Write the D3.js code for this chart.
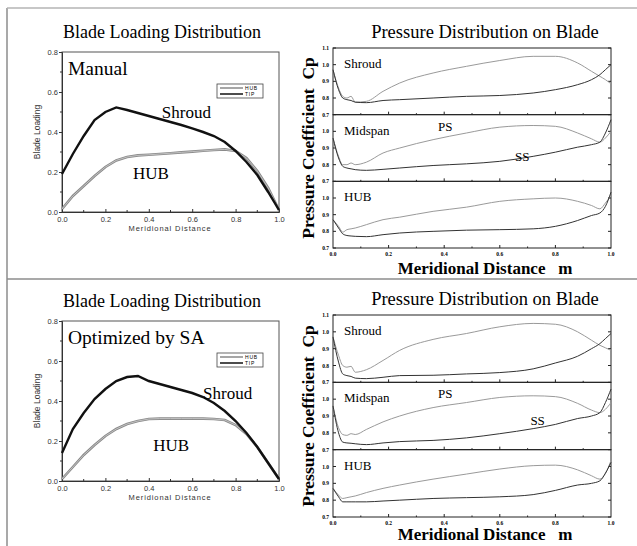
<!DOCTYPE html>
<html>
<head>
<meta charset="utf-8">
<script src="https://cdn.jsdelivr.net/npm/d3@7"></script>
<style>
  body { margin: 0; background: #fff; }
  text { font-family: "Liberation Serif", "Times New Roman", serif; }
</style>
</head>
<body>
<div id="fig"></div>
<script>
// ---- blade loading data ----
var blX = [0, 0.05, 0.1, 0.15, 0.2, 0.25, 0.3, 0.35, 0.4, 0.45, 0.5, 0.55, 0.6, 0.65, 0.7, 0.75, 0.8, 0.85, 0.9, 0.95, 1.0];
var manualTip = [0.19, 0.29, 0.38, 0.46, 0.50, 0.523, 0.51, 0.495, 0.48, 0.465, 0.45, 0.435, 0.418, 0.40, 0.38, 0.35, 0.305, 0.25, 0.185, 0.10, 0.01];
var manualHub = [0.015, 0.08, 0.13, 0.18, 0.225, 0.258, 0.275, 0.283, 0.286, 0.29, 0.294, 0.298, 0.302, 0.306, 0.31, 0.313, 0.305, 0.27, 0.205, 0.12, 0.01];
var optTip = [0.14, 0.26, 0.34, 0.41, 0.46, 0.50, 0.52, 0.525, 0.50, 0.485, 0.47, 0.455, 0.44, 0.42, 0.39, 0.35, 0.30, 0.24, 0.17, 0.09, 0.01];
var optHub = [0.01, 0.07, 0.13, 0.18, 0.225, 0.26, 0.285, 0.30, 0.31, 0.312, 0.312, 0.312, 0.312, 0.312, 0.31, 0.305, 0.28, 0.235, 0.17, 0.09, 0.01];
var blYTicks = [0, 0.2, 0.4, 0.6, 0.8];
var xTicks = [0, 0.2, 0.4, 0.6, 0.8, 1.0];

// ---- pressure coefficient data ----
var cpX = [0, 0.02, 0.035, 0.05, 0.065, 0.08, 0.12, 0.18, 0.24, 0.36, 0.48, 0.6, 0.72, 0.8, 0.88, 0.93, 0.96, 0.98, 1.0];
// manual
var manShroudPS = [0.97, 0.86, 0.81, 0.80, 0.81, 0.775, 0.78, 0.84, 0.89, 0.95, 0.99, 1.025, 1.05, 1.05, 1.01, 0.96, 0.93, 0.91, 0.885];
var manShroudSS = [0.97, 0.85, 0.80, 0.79, 0.785, 0.775, 0.772, 0.785, 0.79, 0.80, 0.81, 0.815, 0.83, 0.85, 0.88, 0.91, 0.94, 0.97, 1.0];
var manMidPS = [0.96, 0.85, 0.80, 0.80, 0.81, 0.80, 0.815, 0.87, 0.90, 0.95, 0.99, 1.025, 1.035, 1.03, 0.99, 0.955, 0.935, 0.96, 1.0];
var manMidSS = [0.96, 0.84, 0.79, 0.78, 0.775, 0.77, 0.766, 0.772, 0.78, 0.795, 0.805, 0.82, 0.85, 0.875, 0.905, 0.92, 0.935, 0.99, 1.07];
var manHubPS = [0.87, 0.83, 0.795, 0.81, 0.815, 0.82, 0.84, 0.87, 0.885, 0.92, 0.945, 0.98, 0.995, 1.0, 0.98, 0.955, 0.935, 0.97, 1.015];
var manHubSS = [0.87, 0.82, 0.785, 0.775, 0.772, 0.77, 0.768, 0.78, 0.79, 0.80, 0.807, 0.81, 0.815, 0.83, 0.865, 0.895, 0.91, 0.95, 1.035];
// optimized
var optShroudPS = [0.97, 0.86, 0.80, 0.79, 0.795, 0.76, 0.775, 0.83, 0.89, 0.955, 0.99, 1.03, 1.05, 1.045, 1.0, 0.95, 0.92, 0.905, 0.89];
var optShroudSS = [0.97, 0.82, 0.75, 0.74, 0.735, 0.725, 0.722, 0.73, 0.74, 0.742, 0.75, 0.758, 0.78, 0.815, 0.855, 0.90, 0.93, 0.96, 0.99];
var optMidPS = [0.96, 0.83, 0.79, 0.785, 0.795, 0.79, 0.82, 0.865, 0.90, 0.95, 0.98, 1.01, 1.02, 1.015, 0.975, 0.935, 0.92, 0.94, 0.98];
var optMidSS = [0.96, 0.80, 0.745, 0.74, 0.738, 0.735, 0.73, 0.74, 0.748, 0.755, 0.77, 0.795, 0.825, 0.85, 0.885, 0.90, 0.92, 0.98, 1.06];
var optHubPS = [0.87, 0.83, 0.81, 0.815, 0.82, 0.825, 0.845, 0.87, 0.89, 0.925, 0.955, 0.985, 1.005, 1.008, 0.98, 0.945, 0.925, 0.96, 1.035];
var optHubSS = [0.87, 0.82, 0.79, 0.79, 0.79, 0.79, 0.79, 0.795, 0.80, 0.81, 0.815, 0.82, 0.833, 0.858, 0.89, 0.90, 0.915, 0.96, 1.025];
var cpYTicks = [0.7, 0.8, 0.9, 1.0, 1.1];

var W = 637, H = 546;
var svg = d3.select("#fig").append("svg").attr("width", W).attr("height", H);

// outer frame lines
var frameColor = "#8c8c8c";
svg.append("line").attr("x1", 7).attr("x2", 7).attr("y1", 8).attr("y2", H).attr("stroke", frameColor).attr("stroke-width", 1.5);
svg.append("line").attr("x1", 7).attr("x2", W).attr("y1", 8).attr("y2", 8).attr("stroke", "#b5b5b5").attr("stroke-width", 1.5);
svg.append("line").attr("x1", 7).attr("x2", W).attr("y1", 279).attr("y2", 279).attr("stroke", frameColor).attr("stroke-width", 1.5);

// blade loading panel
function drawBL(top, caption, tip, hub, shroudAt, hubAt) {
    var x = d3.scaleLinear().domain([0, 1]).range([62, 279]);
    var y = d3.scaleLinear().domain([0, 0.8]).range([top + 160, top]);
    var g = svg.append("g");

    g.append("text").attr("x", 162).attr("y", top - 14).attr("text-anchor", "middle")
        .style("font-size", "18px").text("Blade Loading Distribution");

    // frame
    g.append("rect").attr("x", x(0)).attr("y", y(0.8)).attr("width", x(1) - x(0)).attr("height", y(0) - y(0.8))
        .attr("fill", "none").attr("stroke", "#555").attr("stroke-width", 1);

    var ax = g.append("g").attr("transform", "translate(0," + y(0) + ")")
        .call(d3.axisBottom(x).tickValues(xTicks).tickFormat(d3.format(".1f")).tickSize(-3).tickPadding(5));
    var ay = g.append("g").attr("transform", "translate(" + x(0) + ",0)")
        .call(d3.axisLeft(y).tickValues(blYTicks).tickFormat(d3.format(".1f")).tickSize(3).tickPadding(1));
    [ax, ay].forEach(function (a) {
        a.select(".domain").attr("stroke", "#333");
        a.selectAll("line").attr("stroke", "#333");
        a.selectAll("text").style("font-family", "Liberation Sans, Arial, sans-serif")
            .style("font-size", "7.5px").attr("fill", "#333");
    });
    // minor ticks
    g.selectAll(".mx").data(d3.range(0.1, 1, 0.2)).enter().append("line")
        .attr("x1", d => x(d)).attr("x2", d => x(d)).attr("y1", y(0)).attr("y2", y(0) - 2).attr("stroke", "#333");
    g.selectAll(".my").data(d3.range(0.1, 0.8, 0.2)).enter().append("line")
        .attr("x1", x(0)).attr("x2", x(0) - 2).attr("y1", d => y(d)).attr("y2", d => y(d)).attr("stroke", "#333");

    g.append("text").attr("x", 170).attr("y", y(0) + 19).attr("text-anchor", "middle")
        .style("font-family", "Liberation Sans, Arial, sans-serif").style("font-size", "7.5px")
        .style("letter-spacing", "0.9px").attr("fill", "#333").text("Meridional Distance");
    g.append("text").attr("transform", "translate(40," + (top + 80) + ") rotate(-90)").attr("text-anchor", "middle")
        .style("font-family", "Liberation Sans, Arial, sans-serif").style("font-size", "8.5px")
        .attr("fill", "#333").text("Blade Loading");

    var line = d3.line().x((d, i) => x(blX[i])).y(d => y(d));
    g.append("path").datum(hub).attr("d", line).attr("fill", "none").attr("stroke", "#8a8a8a").attr("stroke-width", 2.6);
    g.append("path").datum(hub).attr("d", line).attr("fill", "none").attr("stroke", "#cfcfcf").attr("stroke-width", 0.8);
    g.append("path").datum(tip).attr("d", line).attr("fill", "none").attr("stroke", "#111").attr("stroke-width", 2.4);

    g.append("text").attr("x", 68).attr("y", top + 23).style("font-size", "19.5px").text(caption);
    g.append("text").attr("x", x(shroudAt[0])).attr("y", y(shroudAt[1])).style("font-size", "17px").text("Shroud");
    g.append("text").attr("x", x(hubAt[0])).attr("y", y(hubAt[1])).style("font-size", "17px").text("HUB");

    // legend
    var lg = g.append("g").attr("transform", "translate(217," + (top + 32) + ")");
    lg.append("rect").attr("width", 46).attr("height", 14).attr("fill", "#fff").attr("stroke", "#444").attr("stroke-width", 0.8);
    lg.append("line").attr("x1", 3).attr("x2", 26).attr("y1", 4).attr("y2", 4).attr("stroke", "#888").attr("stroke-width", 1.5);
    lg.append("line").attr("x1", 3).attr("x2", 26).attr("y1", 10).attr("y2", 10).attr("stroke", "#111").attr("stroke-width", 1.5);
    lg.append("text").attr("x", 28).attr("y", 6).style("font-family", "Liberation Sans, Arial, sans-serif")
        .style("font-size", "5px").style("letter-spacing", "0.8px").text("HUB");
    lg.append("text").attr("x", 28).attr("y", 12).style("font-family", "Liberation Sans, Arial, sans-serif")
        .style("font-size", "5px").style("letter-spacing", "0.8px").text("TIP");
}

// pressure distribution panel
function drawCp(top, bottom, labelGap, subs, psAt, ssAt) {
    var x = d3.scaleLinear().domain([0, 1]).range([333, 611]);
    var g = svg.append("g");
    var h = (bottom - top) / 3;

    g.append("text").attr("x", 485).attr("y", top - 10).attr("text-anchor", "middle")
        .style("font-size", "18.5px").text("Pressure Distribution on Blade");

    subs.forEach(function (s, k) {
        var t = top + k * h;
        var y = d3.scaleLinear().domain([0.7, 1.1]).range([t + h, t]);
        g.append("rect").attr("x", x(0)).attr("y", t).attr("width", x(1) - x(0)).attr("height", h)
            .attr("fill", "none").attr("stroke", "#222").attr("stroke-width", 1);
        // ticks
        var yt = k == 0 ? cpYTicks : cpYTicks.slice(0, 4);
        g.selectAll(".yt" + k).data(yt).enter().append("line")
            .attr("x1", x(0)).attr("x2", x(0) + 3).attr("y1", d => y(d)).attr("y2", d => y(d)).attr("stroke", "#222");
        g.selectAll(".yr" + k).data(yt).enter().append("line")
            .attr("x1", x(1)).attr("x2", x(1) - 3).attr("y1", d => y(d)).attr("y2", d => y(d)).attr("stroke", "#222");
        g.selectAll(".yl" + k).data(yt).enter().append("text")
            .attr("x", x(0) - 4).attr("y", d => y(d) + 2).attr("text-anchor", "end")
            .style("font-size", "5.5px").style("font-weight", "bold").text(d => d3.format(".1f")(d));
        g.selectAll(".xt" + k).data(d3.range(0.1, 1, 0.1)).enter().append("line")
            .attr("x1", d => x(d)).attr("x2", d => x(d)).attr("y1", t + h).attr("y2", (d, i) => t + h - (i % 2 ? 3 : 1.5))
            .attr("stroke", "#222");

        var line = d3.line().x((d, i) => x(cpX[i])).y(d => y(d)).curve(d3.curveMonotoneX);
        g.append("path").datum(s.ps).attr("d", line).attr("fill", "none").attr("stroke", "#9a9a9a").attr("stroke-width", 1);
        g.append("path").datum(s.ss).attr("d", line).attr("fill", "none").attr("stroke", "#333").attr("stroke-width", 1);
        g.append("text").attr("x", 344).attr("y", t + 20).style("font-size", "13px").text(s.name);
        if (k == 1) {
            g.append("text").attr("x", x(psAt[0])).attr("y", y(psAt[1])).style("font-size", "13px").text("PS");
            g.append("text").attr("x", x(ssAt[0])).attr("y", y(ssAt[1])).style("font-size", "13px").text("SS");
        }
    });

    g.selectAll(".xl").data(xTicks).enter().append("text")
        .attr("x", d => x(d)).attr("y", bottom + 7.5).attr("text-anchor", "middle")
        .style("font-size", "5.5px").style("font-weight", "bold").text(d => d3.format(".1f")(d));

    g.append("text").attr("x", 485).attr("y", bottom + labelGap).attr("text-anchor", "middle")
        .style("font-size", "17px").style("font-weight", "bold").style("white-space", "pre")
        .text("Meridional Distance   m");
    g.append("text").attr("transform", "translate(314," + ((top + bottom) / 2) + ") rotate(-90)")
        .attr("text-anchor", "middle").style("font-size", "17.5px").style("font-weight", "bold")
        .style("white-space", "pre").text("Pressure Coefficient  Cp");
}

drawBL(52, "Manual", manualTip, manualHub, [0.46, 0.47], [0.327, 0.165]);
drawBL(321, "Optimized by SA", optTip, optHub, [0.65, 0.41], [0.42, 0.15]);

drawCp(48, 248, 26, [
    { name: "Shroud", ps: manShroudPS, ss: manShroudSS },
    { name: "Midspan", ps: manMidPS, ss: manMidSS },
    { name: "HUB", ps: manHubPS, ss: manHubSS }
], [0.378, 1.0], [0.655, 0.825]);
drawCp(315, 517, 23, [
    { name: "Shroud", ps: optShroudPS, ss: optShroudSS },
    { name: "Midspan", ps: optMidPS, ss: optMidSS },
    { name: "HUB", ps: optHubPS, ss: optHubSS }
], [0.378, 1.006], [0.71, 0.847]);
</script>
</body>
</html>
